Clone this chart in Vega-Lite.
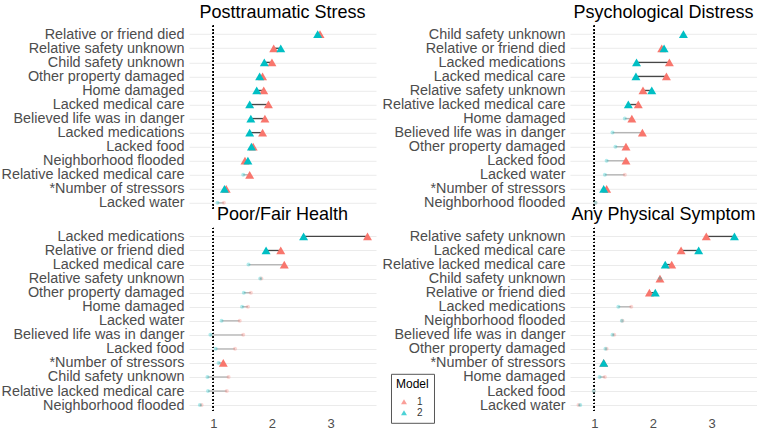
{
  "$schema": "https://vega.github.io/schema/vega-lite/v6.json",
  "padding": {"left": 0, "top": 2.8, "right": 0, "bottom": 0},
  "config": {
    "font": "Liberation Sans",
    "view": {"stroke": null},
    "axis": {"labelFont": "Liberation Sans"},
    "title": {"fontSize": 18, "fontWeight": "normal", "color": "black", "anchor": "middle", "frame": "group", "offset": 3.6, "baseline": "alphabetic", "font": "Liberation Sans"},
    "axisY": {"title": null, "grid": true, "gridColor": "#ebebeb", "gridWidth": 1, "ticks": false, "domain": false, "labelFontSize": 14.4, "labelColor": "#4d4d4d", "labelPadding": 5, "labelLimit": 400},
    "axisX": {"title": null, "grid": false, "ticks": false, "domain": false, "labelFontSize": 13, "labelColor": "#4d4d4d", "labelPadding": 4}
  },
  "datasets": {
    "or": [
    {"outcome":"Posttraumatic Stress","stressor":"Relative or friend died","model":"1","or":2.82,"sig":"y","pair":"dark","rank":1},
    {"outcome":"Posttraumatic Stress","stressor":"Relative safety unknown","model":"1","or":2.03,"sig":"y","pair":"dark","rank":2},
    {"outcome":"Posttraumatic Stress","stressor":"Child safety unknown","model":"1","or":2.00,"sig":"y","pair":"dark","rank":3},
    {"outcome":"Posttraumatic Stress","stressor":"Other property damaged","model":"1","or":1.84,"sig":"y","pair":"dark","rank":4},
    {"outcome":"Posttraumatic Stress","stressor":"Home damaged","model":"1","or":1.86,"sig":"y","pair":"dark","rank":5},
    {"outcome":"Posttraumatic Stress","stressor":"Lacked medical care","model":"1","or":1.94,"sig":"y","pair":"dark","rank":6},
    {"outcome":"Posttraumatic Stress","stressor":"Believed life was in danger","model":"1","or":1.88,"sig":"y","pair":"dark","rank":7},
    {"outcome":"Posttraumatic Stress","stressor":"Lacked medications","model":"1","or":1.84,"sig":"y","pair":"dark","rank":8},
    {"outcome":"Posttraumatic Stress","stressor":"Lacked food","model":"1","or":1.68,"sig":"y","pair":"dark","rank":9},
    {"outcome":"Posttraumatic Stress","stressor":"Neighborhood flooded","model":"1","or":1.54,"sig":"y","pair":"dark","rank":10},
    {"outcome":"Posttraumatic Stress","stressor":"Relative lacked medical care","model":"1","or":1.62,"sig":"y","pair":"grey","rank":11},
    {"outcome":"Posttraumatic Stress","stressor":"*Number of stressors","model":"1","or":1.22,"sig":"y","pair":"dark","rank":12},
    {"outcome":"Posttraumatic Stress","stressor":"Lacked water","model":"1","or":1.18,"sig":"n","pair":"grey","rank":13},

    {"outcome":"Psychological Distress","stressor":"Child safety unknown","model":"1","or":2.52,"sig":"n","pair":"grey","rank":1},
    {"outcome":"Psychological Distress","stressor":"Relative or friend died","model":"1","or":2.15,"sig":"y","pair":"dark","rank":2},
    {"outcome":"Psychological Distress","stressor":"Lacked medications","model":"1","or":2.28,"sig":"y","pair":"dark","rank":3},
    {"outcome":"Psychological Distress","stressor":"Lacked medical care","model":"1","or":2.23,"sig":"y","pair":"dark","rank":4},
    {"outcome":"Psychological Distress","stressor":"Relative safety unknown","model":"1","or":1.83,"sig":"y","pair":"dark","rank":5},
    {"outcome":"Psychological Distress","stressor":"Relative lacked medical care","model":"1","or":1.75,"sig":"y","pair":"dark","rank":6},
    {"outcome":"Psychological Distress","stressor":"Home damaged","model":"1","or":1.64,"sig":"y","pair":"grey","rank":7},
    {"outcome":"Psychological Distress","stressor":"Believed life was in danger","model":"1","or":1.82,"sig":"y","pair":"grey","rank":8},
    {"outcome":"Psychological Distress","stressor":"Other property damaged","model":"1","or":1.54,"sig":"y","pair":"grey","rank":9},
    {"outcome":"Psychological Distress","stressor":"Lacked food","model":"1","or":1.54,"sig":"y","pair":"grey","rank":10},
    {"outcome":"Psychological Distress","stressor":"Lacked water","model":"1","or":1.52,"sig":"n","pair":"grey","rank":11},
    {"outcome":"Psychological Distress","stressor":"*Number of stressors","model":"1","or":1.21,"sig":"y","pair":"dark","rank":12},
    {"outcome":"Psychological Distress","stressor":"Neighborhood flooded","model":"1","or":1.02,"sig":"n","pair":"grey","rank":13},

    {"outcome":"Poor/Fair Health","stressor":"Lacked medications","model":"1","or":3.63,"sig":"y","pair":"dark","rank":1},
    {"outcome":"Poor/Fair Health","stressor":"Relative or friend died","model":"1","or":2.15,"sig":"y","pair":"dark","rank":2},
    {"outcome":"Poor/Fair Health","stressor":"Lacked medical care","model":"1","or":2.21,"sig":"y","pair":"grey","rank":3},
    {"outcome":"Poor/Fair Health","stressor":"Relative safety unknown","model":"1","or":1.82,"sig":"n","pair":"grey","rank":4},
    {"outcome":"Poor/Fair Health","stressor":"Other property damaged","model":"1","or":1.64,"sig":"n","pair":"grey","rank":5},
    {"outcome":"Poor/Fair Health","stressor":"Home damaged","model":"1","or":1.59,"sig":"n","pair":"grey","rank":6},
    {"outcome":"Poor/Fair Health","stressor":"Lacked water","model":"1","or":1.45,"sig":"n","pair":"grey","rank":7},
    {"outcome":"Poor/Fair Health","stressor":"Believed life was in danger","model":"1","or":1.51,"sig":"n","pair":"grey","rank":8},
    {"outcome":"Poor/Fair Health","stressor":"Lacked food","model":"1","or":1.37,"sig":"n","pair":"grey","rank":9},
    {"outcome":"Poor/Fair Health","stressor":"*Number of stressors","model":"1","or":1.17,"sig":"y","pair":"grey","rank":10},
    {"outcome":"Poor/Fair Health","stressor":"Child safety unknown","model":"1","or":1.26,"sig":"n","pair":"grey","rank":11},
    {"outcome":"Poor/Fair Health","stressor":"Relative lacked medical care","model":"1","or":1.23,"sig":"n","pair":"grey","rank":12},
    {"outcome":"Poor/Fair Health","stressor":"Neighborhood flooded","model":"1","or":0.80,"sig":"n","pair":"grey","rank":13},

    {"outcome":"Any Physical Symptom","stressor":"Relative safety unknown","model":"1","or":2.91,"sig":"y","pair":"dark","rank":1},
    {"outcome":"Any Physical Symptom","stressor":"Lacked medical care","model":"1","or":2.48,"sig":"y","pair":"dark","rank":2},
    {"outcome":"Any Physical Symptom","stressor":"Relative lacked medical care","model":"1","or":2.32,"sig":"y","pair":"dark","rank":3},
    {"outcome":"Any Physical Symptom","stressor":"Child safety unknown","model":"1","or":2.12,"sig":"y","pair":"grey","rank":4},
    {"outcome":"Any Physical Symptom","stressor":"Relative or friend died","model":"1","or":1.94,"sig":"y","pair":"dark","rank":5},
    {"outcome":"Any Physical Symptom","stressor":"Lacked medications","model":"1","or":1.63,"sig":"n","pair":"grey","rank":6},
    {"outcome":"Any Physical Symptom","stressor":"Neighborhood flooded","model":"1","or":1.48,"sig":"n","pair":"grey","rank":7},
    {"outcome":"Any Physical Symptom","stressor":"Believed life was in danger","model":"1","or":1.34,"sig":"n","pair":"grey","rank":8},
    {"outcome":"Any Physical Symptom","stressor":"Other property damaged","model":"1","or":1.21,"sig":"n","pair":"grey","rank":9},
    {"outcome":"Any Physical Symptom","stressor":"*Number of stressors","model":"1","or":1.16,"sig":"y","pair":"dark","rank":10},
    {"outcome":"Any Physical Symptom","stressor":"Home damaged","model":"1","or":1.18,"sig":"n","pair":"grey","rank":11},
    {"outcome":"Any Physical Symptom","stressor":"Lacked food","model":"1","or":0.99,"sig":"n","pair":"grey","rank":12},
    {"outcome":"Any Physical Symptom","stressor":"Lacked water","model":"1","or":0.73,"sig":"n","pair":"grey","rank":13},

    {"outcome":"Posttraumatic Stress","stressor":"Relative or friend died","model":"2","or":2.78,"sig":"y","pair":"dark","rank":1},
    {"outcome":"Posttraumatic Stress","stressor":"Relative safety unknown","model":"2","or":2.15,"sig":"y","pair":"dark","rank":2},
    {"outcome":"Posttraumatic Stress","stressor":"Child safety unknown","model":"2","or":1.87,"sig":"y","pair":"dark","rank":3},
    {"outcome":"Posttraumatic Stress","stressor":"Other property damaged","model":"2","or":1.79,"sig":"y","pair":"dark","rank":4},
    {"outcome":"Posttraumatic Stress","stressor":"Home damaged","model":"2","or":1.74,"sig":"y","pair":"dark","rank":5},
    {"outcome":"Posttraumatic Stress","stressor":"Lacked medical care","model":"2","or":1.62,"sig":"y","pair":"dark","rank":6},
    {"outcome":"Posttraumatic Stress","stressor":"Believed life was in danger","model":"2","or":1.64,"sig":"y","pair":"dark","rank":7},
    {"outcome":"Posttraumatic Stress","stressor":"Lacked medications","model":"2","or":1.62,"sig":"y","pair":"dark","rank":8},
    {"outcome":"Posttraumatic Stress","stressor":"Lacked food","model":"2","or":1.65,"sig":"y","pair":"dark","rank":9},
    {"outcome":"Posttraumatic Stress","stressor":"Neighborhood flooded","model":"2","or":1.59,"sig":"y","pair":"dark","rank":10},
    {"outcome":"Posttraumatic Stress","stressor":"Relative lacked medical care","model":"2","or":1.51,"sig":"n","pair":"grey","rank":11},
    {"outcome":"Posttraumatic Stress","stressor":"*Number of stressors","model":"2","or":1.19,"sig":"y","pair":"dark","rank":12},
    {"outcome":"Posttraumatic Stress","stressor":"Lacked water","model":"2","or":1.07,"sig":"n","pair":"grey","rank":13},

    {"outcome":"Psychological Distress","stressor":"Child safety unknown","model":"2","or":2.52,"sig":"y","pair":"grey","rank":1},
    {"outcome":"Psychological Distress","stressor":"Relative or friend died","model":"2","or":2.19,"sig":"y","pair":"dark","rank":2},
    {"outcome":"Psychological Distress","stressor":"Lacked medications","model":"2","or":1.72,"sig":"y","pair":"dark","rank":3},
    {"outcome":"Psychological Distress","stressor":"Lacked medical care","model":"2","or":1.71,"sig":"y","pair":"dark","rank":4},
    {"outcome":"Psychological Distress","stressor":"Relative safety unknown","model":"2","or":1.98,"sig":"y","pair":"dark","rank":5},
    {"outcome":"Psychological Distress","stressor":"Relative lacked medical care","model":"2","or":1.58,"sig":"y","pair":"dark","rank":6},
    {"outcome":"Psychological Distress","stressor":"Home damaged","model":"2","or":1.52,"sig":"n","pair":"grey","rank":7},
    {"outcome":"Psychological Distress","stressor":"Believed life was in danger","model":"2","or":1.31,"sig":"n","pair":"grey","rank":8},
    {"outcome":"Psychological Distress","stressor":"Other property damaged","model":"2","or":1.36,"sig":"n","pair":"grey","rank":9},
    {"outcome":"Psychological Distress","stressor":"Lacked food","model":"2","or":1.21,"sig":"n","pair":"grey","rank":10},
    {"outcome":"Psychological Distress","stressor":"Lacked water","model":"2","or":1.18,"sig":"n","pair":"grey","rank":11},
    {"outcome":"Psychological Distress","stressor":"*Number of stressors","model":"2","or":1.16,"sig":"y","pair":"dark","rank":12},
    {"outcome":"Psychological Distress","stressor":"Neighborhood flooded","model":"2","or":1.02,"sig":"n","pair":"grey","rank":13},

    {"outcome":"Poor/Fair Health","stressor":"Lacked medications","model":"2","or":2.54,"sig":"y","pair":"dark","rank":1},
    {"outcome":"Poor/Fair Health","stressor":"Relative or friend died","model":"2","or":1.90,"sig":"y","pair":"dark","rank":2},
    {"outcome":"Poor/Fair Health","stressor":"Lacked medical care","model":"2","or":1.60,"sig":"n","pair":"grey","rank":3},
    {"outcome":"Poor/Fair Health","stressor":"Relative safety unknown","model":"2","or":1.80,"sig":"n","pair":"grey","rank":4},
    {"outcome":"Poor/Fair Health","stressor":"Other property damaged","model":"2","or":1.52,"sig":"n","pair":"grey","rank":5},
    {"outcome":"Poor/Fair Health","stressor":"Home damaged","model":"2","or":1.49,"sig":"n","pair":"grey","rank":6},
    {"outcome":"Poor/Fair Health","stressor":"Lacked water","model":"2","or":1.14,"sig":"n","pair":"grey","rank":7},
    {"outcome":"Poor/Fair Health","stressor":"Believed life was in danger","model":"2","or":0.95,"sig":"n","pair":"grey","rank":8},
    {"outcome":"Poor/Fair Health","stressor":"Lacked food","model":"2","or":1.04,"sig":"n","pair":"grey","rank":9},
    {"outcome":"Poor/Fair Health","stressor":"*Number of stressors","model":"2","or":1.09,"sig":"n","pair":"grey","rank":10},
    {"outcome":"Poor/Fair Health","stressor":"Child safety unknown","model":"2","or":0.90,"sig":"n","pair":"grey","rank":11},
    {"outcome":"Poor/Fair Health","stressor":"Relative lacked medical care","model":"2","or":0.91,"sig":"n","pair":"grey","rank":12},
    {"outcome":"Poor/Fair Health","stressor":"Neighborhood flooded","model":"2","or":0.77,"sig":"n","pair":"grey","rank":13},

    {"outcome":"Any Physical Symptom","stressor":"Relative safety unknown","model":"2","or":3.39,"sig":"y","pair":"dark","rank":1},
    {"outcome":"Any Physical Symptom","stressor":"Lacked medical care","model":"2","or":2.78,"sig":"y","pair":"dark","rank":2},
    {"outcome":"Any Physical Symptom","stressor":"Relative lacked medical care","model":"2","or":2.21,"sig":"y","pair":"dark","rank":3},
    {"outcome":"Any Physical Symptom","stressor":"Child safety unknown","model":"2","or":2.12,"sig":"n","pair":"grey","rank":4},
    {"outcome":"Any Physical Symptom","stressor":"Relative or friend died","model":"2","or":2.04,"sig":"y","pair":"dark","rank":5},
    {"outcome":"Any Physical Symptom","stressor":"Lacked medications","model":"2","or":1.41,"sig":"n","pair":"grey","rank":6},
    {"outcome":"Any Physical Symptom","stressor":"Neighborhood flooded","model":"2","or":1.47,"sig":"n","pair":"grey","rank":7},
    {"outcome":"Any Physical Symptom","stressor":"Believed life was in danger","model":"2","or":1.31,"sig":"n","pair":"grey","rank":8},
    {"outcome":"Any Physical Symptom","stressor":"Other property damaged","model":"2","or":1.19,"sig":"n","pair":"grey","rank":9},
    {"outcome":"Any Physical Symptom","stressor":"*Number of stressors","model":"2","or":1.16,"sig":"y","pair":"dark","rank":10},
    {"outcome":"Any Physical Symptom","stressor":"Home damaged","model":"2","or":1.09,"sig":"n","pair":"grey","rank":11},
    {"outcome":"Any Physical Symptom","stressor":"Lacked food","model":"2","or":0.99,"sig":"n","pair":"grey","rank":12},
    {"outcome":"Any Physical Symptom","stressor":"Lacked water","model":"2","or":0.76,"sig":"n","pair":"grey","rank":13}
    ]
  },
  "data": {"name": "or"},
  "spacing": -6.8,
  "vconcat": [
    {"spacing": 5, "hconcat": [
      {"title": {"text": "Posttraumatic Stress"}, "width": 187, "height": 185.5,
       "transform": [{"filter": {"field": "outcome", "equal": "Posttraumatic Stress"}}],
       "encoding": {
         "x": {"field": "or", "type": "quantitative", "scale": {"domain": [0.585, 3.775], "nice": false, "zero": false}, "axis": null},
         "y": {"field": "stressor", "type": "nominal", "sort": {"field": "rank", "op": "min", "order": "ascending"}, "scale": {"type": "point", "padding": 0.6}}
       },
       "layer": [
         {"mark": {"type": "rule", "color": "black", "strokeDash": [1, 2.5], "strokeWidth": 1}, "encoding": {"x": {"datum": 1}, "y": null}},
         {"mark": {"type": "line", "color": "#333333", "strokeWidth": 1.3},
          "encoding": {"detail": {"field": "stressor", "type": "nominal"},
            "strokeOpacity": {"field": "pair", "type": "nominal", "scale": {"domain": ["dark", "grey"], "range": [0.9, 0.35]}, "legend": null}}},
         {"mark": {"type": "point", "filled": true, "strokeWidth": 0},
          "encoding": {
            "color": {"field": "model", "type": "nominal", "scale": {"domain": ["1", "2"], "range": ["#F8766D", "#00BFC4"]},
              "legend": {"title": "Model", "orient": "none", "legendX": 202, "legendY": 348, "symbolType": "triangle-up", "symbolSize": 35, "symbolOpacity": 1, "symbolOffset": 3, "labelOffset": 8, "strokeColor": "#555555", "fillColor": "white", "padding": 5, "titlePadding": 6, "titleFontSize": 12, "titleFontWeight": "normal", "titleColor": "black", "labelFontSize": 10, "labelColor": "#333333", "rowPadding": 1}},
            "shape": {"field": "sig", "type": "nominal", "scale": {"domain": ["y", "n"], "range": ["triangle-up", "circle"]}, "legend": null},
            "size": {"field": "sig", "type": "ordinal", "scale": {"domain": ["y", "n"], "range": [80, 16]}, "legend": null},
            "opacity": {"field": "sig", "type": "ordinal", "scale": {"domain": ["y", "n"], "range": [1, 0.3]}, "legend": null}}}
       ]},
      {"title": {"text": "Psychological Distress"}, "width": 187, "height": 185.5,
       "transform": [{"filter": {"field": "outcome", "equal": "Psychological Distress"}}],
       "encoding": {
         "x": {"field": "or", "type": "quantitative", "scale": {"domain": [0.585, 3.775], "nice": false, "zero": false}, "axis": null},
         "y": {"field": "stressor", "type": "nominal", "sort": {"field": "rank", "op": "min", "order": "ascending"}, "scale": {"type": "point", "padding": 0.6}}
       },
       "layer": [
         {"mark": {"type": "rule", "color": "black", "strokeDash": [1, 2.5], "strokeWidth": 1}, "encoding": {"x": {"datum": 1}, "y": null}},
         {"mark": {"type": "line", "color": "#333333", "strokeWidth": 1.3},
          "encoding": {"detail": {"field": "stressor", "type": "nominal"},
            "strokeOpacity": {"field": "pair", "type": "nominal", "scale": {"domain": ["dark", "grey"], "range": [0.9, 0.35]}, "legend": null}}},
         {"mark": {"type": "point", "filled": true, "strokeWidth": 0},
          "encoding": {
            "color": {"field": "model", "type": "nominal", "scale": {"domain": ["1", "2"], "range": ["#F8766D", "#00BFC4"]}},
            "shape": {"field": "sig", "type": "nominal", "scale": {"domain": ["y", "n"], "range": ["triangle-up", "circle"]}, "legend": null},
            "size": {"field": "sig", "type": "ordinal", "scale": {"domain": ["y", "n"], "range": [80, 16]}, "legend": null},
            "opacity": {"field": "sig", "type": "ordinal", "scale": {"domain": ["y", "n"], "range": [1, 0.3]}, "legend": null}}}
       ]}
    ]},
    {"spacing": 5, "hconcat": [
      {"title": {"text": "Poor/Fair Health"}, "width": 187, "height": 185.5,
       "transform": [{"filter": {"field": "outcome", "equal": "Poor/Fair Health"}}],
       "encoding": {
         "x": {"field": "or", "type": "quantitative", "scale": {"domain": [0.585, 3.775], "nice": false, "zero": false}, "axis": {"values": [1, 2, 3]}},
         "y": {"field": "stressor", "type": "nominal", "sort": {"field": "rank", "op": "min", "order": "ascending"}, "scale": {"type": "point", "padding": 0.6}}
       },
       "layer": [
         {"mark": {"type": "rule", "color": "black", "strokeDash": [1, 2.5], "strokeWidth": 1}, "encoding": {"x": {"datum": 1}, "y": null}},
         {"mark": {"type": "line", "color": "#333333", "strokeWidth": 1.3},
          "encoding": {"detail": {"field": "stressor", "type": "nominal"},
            "strokeOpacity": {"field": "pair", "type": "nominal", "scale": {"domain": ["dark", "grey"], "range": [0.9, 0.35]}, "legend": null}}},
         {"mark": {"type": "point", "filled": true, "strokeWidth": 0},
          "encoding": {
            "color": {"field": "model", "type": "nominal", "scale": {"domain": ["1", "2"], "range": ["#F8766D", "#00BFC4"]}},
            "shape": {"field": "sig", "type": "nominal", "scale": {"domain": ["y", "n"], "range": ["triangle-up", "circle"]}, "legend": null},
            "size": {"field": "sig", "type": "ordinal", "scale": {"domain": ["y", "n"], "range": [80, 16]}, "legend": null},
            "opacity": {"field": "sig", "type": "ordinal", "scale": {"domain": ["y", "n"], "range": [1, 0.3]}, "legend": null}}}
       ]},
      {"title": {"text": "Any Physical Symptom"}, "width": 187, "height": 185.5,
       "transform": [{"filter": {"field": "outcome", "equal": "Any Physical Symptom"}}],
       "encoding": {
         "x": {"field": "or", "type": "quantitative", "scale": {"domain": [0.585, 3.775], "nice": false, "zero": false}, "axis": {"values": [1, 2, 3]}},
         "y": {"field": "stressor", "type": "nominal", "sort": {"field": "rank", "op": "min", "order": "ascending"}, "scale": {"type": "point", "padding": 0.6}}
       },
       "layer": [
         {"mark": {"type": "rule", "color": "black", "strokeDash": [1, 2.5], "strokeWidth": 1}, "encoding": {"x": {"datum": 1}, "y": null}},
         {"mark": {"type": "line", "color": "#333333", "strokeWidth": 1.3},
          "encoding": {"detail": {"field": "stressor", "type": "nominal"},
            "strokeOpacity": {"field": "pair", "type": "nominal", "scale": {"domain": ["dark", "grey"], "range": [0.9, 0.35]}, "legend": null}}},
         {"mark": {"type": "point", "filled": true, "strokeWidth": 0},
          "encoding": {
            "color": {"field": "model", "type": "nominal", "scale": {"domain": ["1", "2"], "range": ["#F8766D", "#00BFC4"]}},
            "shape": {"field": "sig", "type": "nominal", "scale": {"domain": ["y", "n"], "range": ["triangle-up", "circle"]}, "legend": null},
            "size": {"field": "sig", "type": "ordinal", "scale": {"domain": ["y", "n"], "range": [80, 16]}, "legend": null},
            "opacity": {"field": "sig", "type": "ordinal", "scale": {"domain": ["y", "n"], "range": [1, 0.3]}, "legend": null}}}
       ]}
    ]}
  ]
}
